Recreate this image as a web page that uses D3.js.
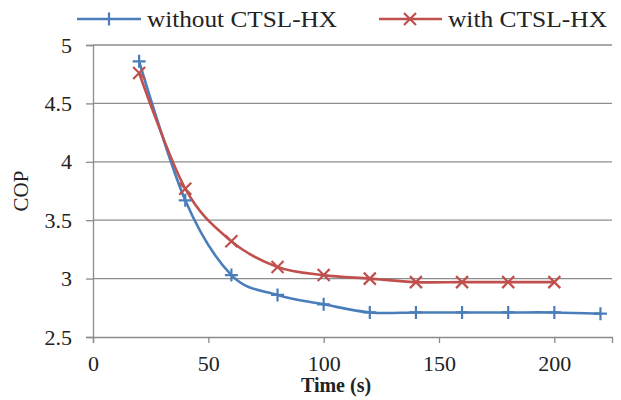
<!DOCTYPE html>
<html>
<head>
<meta charset="utf-8">
<script src="https://cdn.jsdelivr.net/npm/d3@7"></script>
<style>
  body { margin: 0; background: #fff; }
  svg text { font-family: "Liberation Serif", "Times New Roman", serif; fill: #222; }
</style>
</head>
<body>
<svg id="chart" width="621" height="400"></svg>
<script>
// data
const timeWithout = [20, 40, 60, 80, 100, 120, 140, 160, 180, 200, 220];
const copWithout = [4.86, 3.67, 3.03, 2.86, 2.78, 2.71, 2.71, 2.71, 2.71, 2.71, 2.70];
const timeWith = [20, 40, 60, 80, 100, 120, 140, 160, 180, 200];
const copWith = [4.76, 3.77, 3.32, 3.10, 3.03, 3.00, 2.97, 2.97, 2.97, 2.97];
const xTicks = [0, 50, 100, 150, 200];
const yTicks = [2.5, 3, 3.5, 4, 4.5, 5];
const seriesNames = ["without CTSL-HX", "with CTSL-HX"];

const blue = "#4a7ebb", red = "#c0504d", grid = "#8c8c8c";
const serif = "'Liberation Serif', 'Times New Roman', serif";

const svg = d3.select("#chart");
const x = d3.scaleLinear().domain([0, 225]).range([93, 612]);
const y = d3.scaleLinear().domain([2.5, 5]).range([337, 45]);

// horizontal gridlines
svg.append("g")
    .selectAll("line")
    .data(yTicks.slice(1))
    .enter().append("line")
    .attr("x1", x(0)).attr("x2", x(225))
    .attr("y1", d => y(d)).attr("y2", d => y(d))
    .attr("stroke", grid).attr("stroke-width", 1.3);

const yAxis = svg.append("g")
    .attr("transform", `translate(${x(0)},0)`)
    .call(d3.axisLeft(y).tickValues(yTicks).tickSize(7).tickPadding(14).tickFormat(d3.format("")));
const xAxis = svg.append("g")
    .attr("transform", `translate(0,${y(2.5)})`)
    .call(d3.axisBottom(x).tickValues(xTicks).tickSize(6).tickPadding(12));
[xAxis, yAxis].forEach(a => {
    a.attr("font-family", serif).attr("font-size", 22);
    a.select(".domain").attr("stroke", grid).attr("stroke-width", 1.3);
    a.selectAll(".tick line").attr("stroke", grid).attr("stroke-width", 1.3);
    a.selectAll("text").attr("fill", "#222");
});

const line = d3.line()
    .x(d => x(d[0]))
    .y(d => y(d[1]))
    .curve(d3.curveCardinal.tension(0));

const dataWithout = d3.zip(timeWithout, copWithout);
const dataWith = d3.zip(timeWith, copWith);

function plus(g, cx, cy, s, col) {
    g.append("path")
        .attr("d", `M${cx - s},${cy}H${cx + s}M${cx},${cy - s}V${cy + s}`)
        .attr("stroke", col).attr("stroke-width", 2.2).attr("fill", "none");
}
function cross(g, cx, cy, s, col) {
    g.append("path")
        .attr("d", `M${cx - s},${cy - s}L${cx + s},${cy + s}M${cx - s},${cy + s}L${cx + s},${cy - s}`)
        .attr("stroke", col).attr("stroke-width", 2.2).attr("fill", "none");
}

svg.append("path").datum(dataWithout)
    .attr("fill", "none").attr("stroke", blue).attr("stroke-width", 2.6)
    .attr("d", line);
svg.append("path").datum(dataWith)
    .attr("fill", "none").attr("stroke", red).attr("stroke-width", 2.6)
    .attr("d", line);

const mBlue = svg.append("g");
dataWithout.forEach(d => plus(mBlue, x(d[0]), y(d[1]), 6.5, blue));
const mRed = svg.append("g");
dataWith.forEach(d => cross(mRed, x(d[0]), y(d[1]), 6, red));

// legend
const leg = svg.append("g").attr("font-family", serif);
leg.append("line").attr("x1", 77).attr("x2", 141).attr("y1", 19).attr("y2", 19)
    .attr("stroke", blue).attr("stroke-width", 2.6);
plus(leg, 109, 19, 6.5, blue);
leg.append("text").attr("x", 147).attr("y", 27).style("font-size", "23px")
    .attr("textLength", 190).attr("lengthAdjust", "spacingAndGlyphs").text(seriesNames[0]);
leg.append("line").attr("x1", 379).attr("x2", 442).attr("y1", 19).attr("y2", 19)
    .attr("stroke", red).attr("stroke-width", 2.6);
cross(leg, 410, 19, 6, red);
leg.append("text").attr("x", 448).attr("y", 27).style("font-size", "23px")
    .attr("textLength", 159).attr("lengthAdjust", "spacingAndGlyphs").text(seriesNames[1]);

// axis titles
svg.append("text")
    .attr("x", 336).attr("y", 392)
    .attr("text-anchor", "middle")
    .attr("font-family", serif)
    .style("font-size", "20px").style("font-weight", "bold")
    .text("Time (s)");
svg.append("text")
    .attr("transform", "translate(28,191) rotate(-90)")
    .attr("text-anchor", "middle")
    .attr("font-family", serif)
    .style("font-size", "21px")
    .text("COP");
</script>
</body>
</html>
